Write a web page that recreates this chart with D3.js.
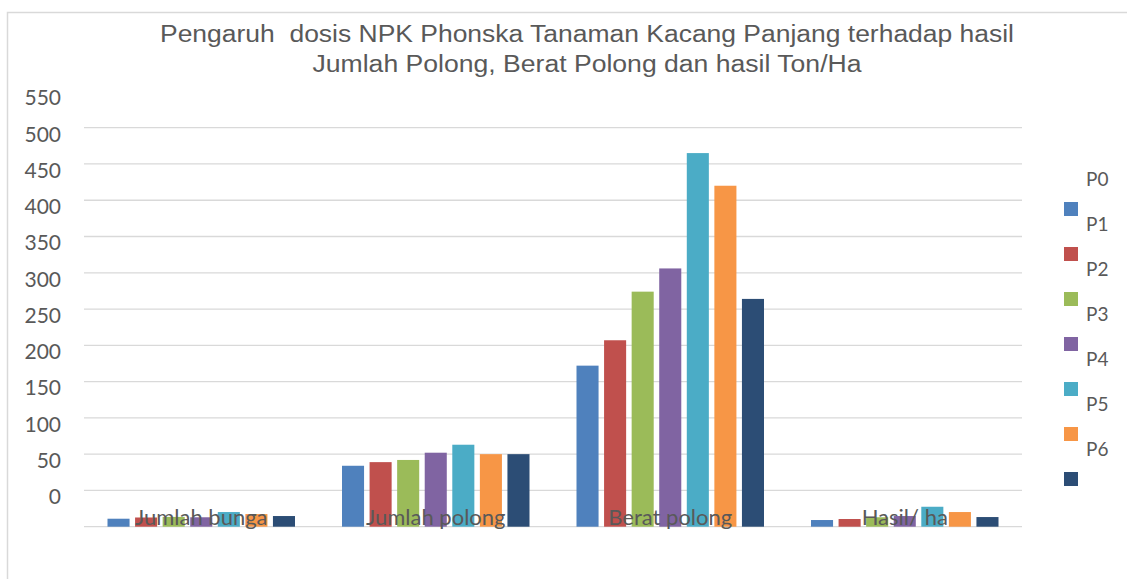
<!DOCTYPE html>
<html>
<head>
<meta charset="utf-8">
<script src="https://cdn.jsdelivr.net/npm/d3@7"></script>
<style>
  html, body { margin: 0; padding: 0; background: #fff; }
  svg { display: block; }
</style>
</head>
<body>
<svg id="chart" width="1127" height="579"></svg>
<script>
// ---- data ----
const categories = ["Jumlah bunga", "Jumlah polong", "Berat polong", "Hasil/ ha"];
const seriesNames = ["P0", "P1", "P2", "P3", "P4", "P5", "P6"];
const P0 = [11.0, 84, 222, 9.2];
const P1 = [12.7, 89, 257, 10.6];
const P2 = [13.5, 92, 324, 13.0];
const P3 = [13.0, 102, 356, 14.7];
const P4 = [20.2, 113, 515, 27.5];
const P5 = [17.4, 100, 470, 20.2];
const P6 = [14.7, 100, 314, 13.3];
const seriesValues = [P0, P1, P2, P3, P4, P5, P6];
const tickValues = [0, 50, 100, 150, 200, 250, 300, 350, 400, 450, 500, 550];
const tickLabels = ["0", "50", "100", "150", "200", "250", "300", "350", "400", "450", "500", "550"];
const legendLabels = ["P0", "P1", "P2", "P3", "P4", "P5", "P6"];
const titleLines = ["Pengaruh  dosis NPK Phonska Tanaman Kacang Panjang terhadap hasil",
                    "Jumlah Polong, Berat Polong dan hasil Ton/Ha"];

// ---- styles ----
const colors = ["#4f81bd", "#c0504d", "#9bbb59", "#8064a2", "#4bacc6", "#f79646", "#2c4d75"];
const textColor = "#595959";
const gridColor = "#d9d9d9";

const svg = d3.select("#chart");

// chart border
svg.append("path")
  .attr("d", "M7.5,579 L7.5,12.5 L1127,12.5")
  .attr("fill", "none").attr("stroke", gridColor).attr("stroke-width", 1.5);

const plot = { left: 84, right: 1022, top: 127.7, bottom: 526.7 };

const x0 = d3.scaleBand().domain(categories).range([plot.left, plot.right]).padding(0);
const groupPad = 23.5;
const x1 = d3.scaleBand().domain(seriesNames)
  .range([groupPad, x0.bandwidth() - groupPad]).paddingInner(0.2).paddingOuter(0);
const y = d3.scaleLinear().domain([0, 550]).range([plot.bottom, plot.top]);

// gridlines
svg.append("g").selectAll("line").data(tickValues).join("line")
  .attr("x1", plot.left).attr("x2", plot.right)
  .attr("y1", d => y(d)).attr("y2", d => y(d))
  .attr("stroke", gridColor).attr("stroke-width", 1.3);

// y tick labels (shifted one step up, as in the reference)
svg.append("g").selectAll("text").data(tickValues).join("text")
  .attr("x", 61)
  .attr("y", (d) => y(d + 50) + 5.3)
  .attr("text-anchor", "end")
  .attr("dominant-baseline", "central")
  .attr("font-family", "Lato, 'Open Sans', sans-serif")
  .attr("font-size", 21)
  .attr("fill", textColor)
  .text((d, i) => tickLabels[i]);

// bars
const groups = svg.append("g").selectAll("g").data(categories).join("g")
  .attr("transform", c => `translate(${x0(c)},0)`);
groups.selectAll("rect")
  .data((c, ci) => seriesNames.map((s, si) => ({ s, si, v: seriesValues[si][ci] })))
  .join("rect")
  .attr("x", d => x1(d.s))
  .attr("width", x1.bandwidth())
  .attr("y", d => y(d.v))
  .attr("height", d => y(0) - y(d.v))
  .attr("fill", d => colors[d.si]);

// category labels (drawn over the bars)
svg.append("g").selectAll("text").data(categories).join("text")
  .attr("x", c => x0(c) + x0.bandwidth() / 2)
  .attr("y", 524.5)
  .attr("text-anchor", "middle")
  .attr("font-family", "Lato, 'Open Sans', sans-serif")
  .attr("font-size", 22)
  .attr("fill", textColor)
  .text(c => c);

// title
const titleSpecs = [{ y: 41.7, w: 854 }, { y: 72.2, w: 549 }];
svg.append("g").selectAll("text").data(titleLines).join("text")
  .attr("x", 587)
  .attr("y", (d, i) => titleSpecs[i].y)
  .attr("text-anchor", "middle")
  .attr("font-family", "'Liberation Sans', Arial, sans-serif")
  .attr("font-size", 23)
  .attr("fill", textColor)
  .style("white-space", "pre")
  .attr("textLength", (d, i) => titleSpecs[i].w)
  .attr("lengthAdjust", "spacingAndGlyphs")
  .text(d => d);

// legend (labels offset from swatches, as in the reference)
const legend = svg.append("g");
legend.selectAll("rect").data(seriesNames).join("rect")
  .attr("x", 1064).attr("y", (d, i) => 202 + 45 * i)
  .attr("width", 14).attr("height", 14)
  .attr("fill", (d, i) => colors[i]);
legend.selectAll("text").data(legendLabels).join("text")
  .attr("x", 1086).attr("y", (d, i) => 178 + 45 * i)
  .attr("dominant-baseline", "central")
  .attr("font-family", "Lato, 'Open Sans', sans-serif")
  .attr("font-size", 19)
  .attr("fill", textColor)
  .text(d => d);
</script>
</body>
</html>
